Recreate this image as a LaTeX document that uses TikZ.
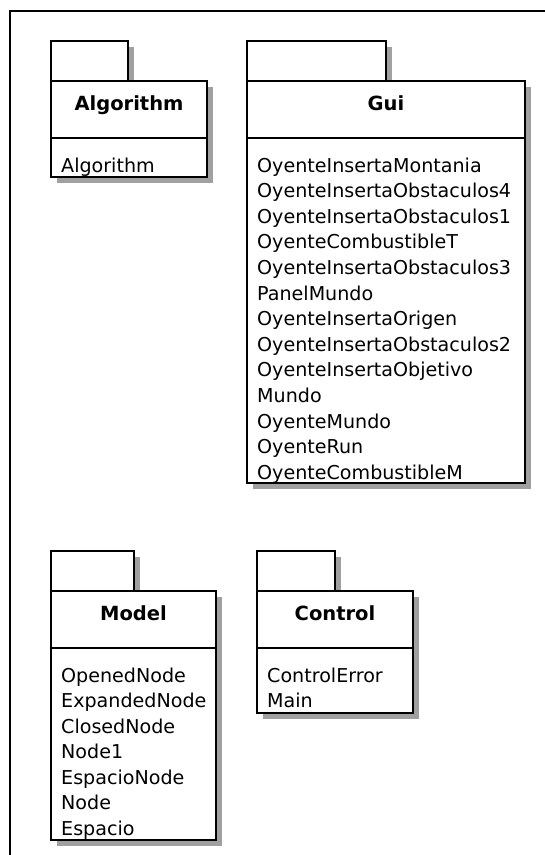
\documentclass[tikz,border=0pt]{standalone}
\usepackage{fontspec}
\setmainfont{DejaVu Sans}
\definecolor{shadowgray}{HTML}{A0A0A0}

% UML package: #1 left, #2 tab right, #3 right, #4 tab top, #5 separator, #6 bottom
\newcommand{\umlpackage}[6]{%
  \fill[pkgshadow] ({#1+6},{#4+6}) rectangle ({#2+6},{#4+46});
  \fill[pkgshadow] ({#1+6},{#4+46}) rectangle ({#3+6},{#6+6});
  \draw[pkgline] (#1,#4) rectangle (#2,{#4+40});
  \draw[pkgline] (#1,{#4+40}) rectangle (#3,#6);
  \draw[pkgline] (#1,#5) -- (#3,#5);
}

\begin{document}
\begin{tikzpicture}[x=1pt,y=-1pt,
  pkgline/.style={draw=black,line width=1.5pt,fill=white},
  pkgshadow/.style={fill=shadowgray},
  frame/.style={draw=black,line width=1.6pt},
  pkgtitle/.style={font=\fontsize{19.5}{23}\selectfont\bfseries,anchor=base,inner sep=0pt},
  pkgitem/.style={font=\fontsize{19.1}{22}\selectfont,anchor=base west,inner sep=0pt},
]
\useasboundingbox (0,0) rectangle (545,855);
\clip (0,0) rectangle (545,855);
\fill[white] (0,0) rectangle (545,855);

% diagram frame, running off the page to the right and bottom
\draw[frame] (10,11) rectangle (620,930);

% Algorithm
\umlpackage{51}{128}{207}{41}{138}{177}
\node[pkgtitle] (algorithm) at (129,110) {Algorithm};
\node[pkgitem] (algorithm-1) at (61,172) {Algorithm};

% Gui
\umlpackage{247}{386}{525}{41}{138}{483}
\node[pkgtitle] (gui) at (386,110) {Gui};
\foreach \t [count=\i from 0] in {OyenteInsertaMontania,OyenteInsertaObstaculos4,
  OyenteInsertaObstaculos1,OyenteCombustibleT,OyenteInsertaObstaculos3,PanelMundo,
  OyenteInsertaOrigen,OyenteInsertaObstaculos2,OyenteInsertaObjetivo,Mundo,
  OyenteMundo,OyenteRun,OyenteCombustibleM}
  \node[pkgitem] (gui-\i) at (257,{172+25.6*\i}) {\t};

% Model
\umlpackage{51}{134}{216}{551}{648}{840}
\node[pkgtitle] (model) at (133.5,620) {Model};
\foreach \t [count=\i from 0] in {OpenedNode,ExpandedNode,ClosedNode,Node1,
  EspacioNode,Node,Espacio}
  \node[pkgitem] (model-\i) at (61,{682+25.5*\i}) {\t};

% Control
\umlpackage{257}{335}{413}{551}{648}{713}
\node[pkgtitle] (control) at (335,620) {Control};
\foreach \t [count=\i from 0] in {ControlError,Main}
  \node[pkgitem] (control-\i) at (267,{682+25.5*\i}) {\t};
\end{tikzpicture}
\end{document}
